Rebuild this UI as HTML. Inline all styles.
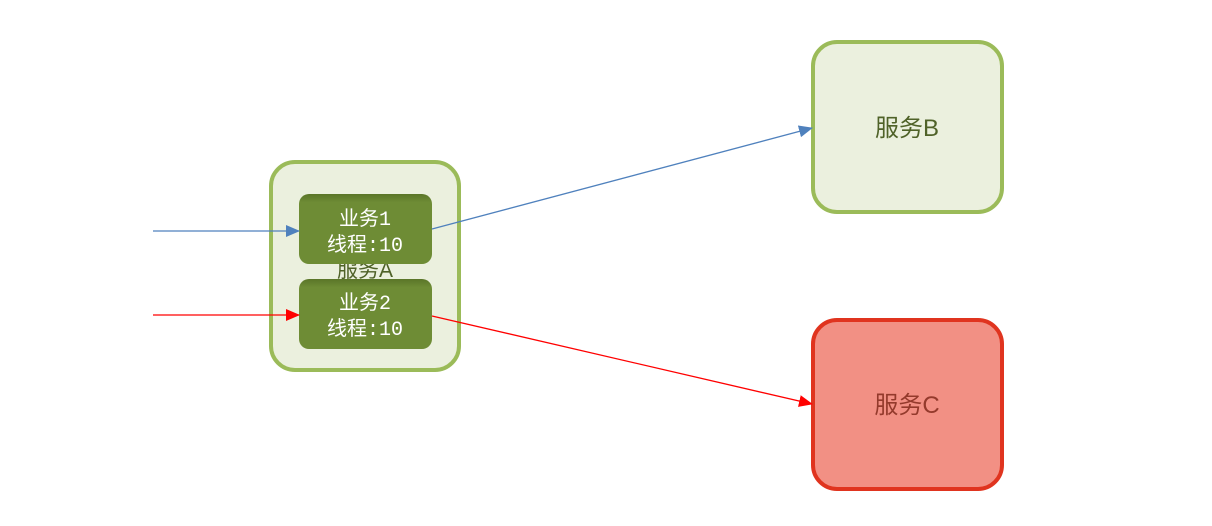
<!DOCTYPE html>
<html><head><meta charset="utf-8"><style>
html,body{margin:0;padding:0;background:#fff;width:1212px;height:526px;overflow:hidden}
svg{display:block}
.cj{font-family:"Liberation Sans","Noto Sans CJK SC",sans-serif}
.mono{font-family:"Liberation Mono","Noto Sans CJK SC",monospace}
</style></head><body>
<svg width="1212" height="526" viewBox="0 0 1212 526">
<defs>
<marker id="ab" markerWidth="14" markerHeight="12" refX="13" refY="6" orient="auto" markerUnits="userSpaceOnUse"><path d="M0,0 L14,6 L0,12 z" fill="#4f81bd"/></marker>
<marker id="ar" markerWidth="14" markerHeight="12" refX="13" refY="6" orient="auto" markerUnits="userSpaceOnUse"><path d="M0,0 L14,6 L0,12 z" fill="#ff0000"/></marker>
<linearGradient id="gg" x1="0" y1="0" x2="0" y2="1"><stop offset="0" stop-color="#5a7528"/><stop offset="0.12" stop-color="#6e8c35"/><stop offset="1" stop-color="#6e8c35"/></linearGradient>
</defs>
<g>
<rect x="271" y="162" width="188" height="208" rx="24" fill="#ebf0de" stroke="#9bbb59" stroke-width="4"/>
<text x="365" y="277" text-anchor="middle" class="cj" font-size="21" fill="#4f6228">服务A</text>
</g>
<g>
<rect x="299" y="194" width="133" height="70" rx="10" fill="url(#gg)"/>
<text x="365" y="225" text-anchor="middle" class="mono" font-size="20" fill="#fff">业务1</text>
<text x="365" y="251" text-anchor="middle" class="mono" font-size="20" fill="#fff">线程:10</text>
</g>
<g>
<rect x="299" y="279" width="133" height="70" rx="10" fill="url(#gg)"/>
<text x="365" y="309" text-anchor="middle" class="mono" font-size="20" fill="#fff">业务2</text>
<text x="365" y="335" text-anchor="middle" class="mono" font-size="20" fill="#fff">线程:10</text>
</g>
<g>
<rect x="813" y="42" width="189" height="170" rx="24" fill="#ebf0de" stroke="#9bbb59" stroke-width="4"/>
<text x="907" y="136" text-anchor="middle" class="cj" font-size="24" fill="#4f6228">服务B</text>
</g>
<g>
<rect x="813" y="320" width="189" height="169" rx="24" fill="#f29084" stroke="#e0341f" stroke-width="4"/>
<text x="907" y="413" text-anchor="middle" class="cj" font-size="24" fill="#943a2c">服务C</text>
</g>
<line x1="153" y1="231" x2="299" y2="231" stroke="#4f81bd" stroke-width="1.3" marker-end="url(#ab)"/>
<line x1="153" y1="315" x2="299" y2="315" stroke="#ff0000" stroke-width="1.3" marker-end="url(#ar)"/>
<line x1="432" y1="229" x2="812" y2="128" stroke="#4f81bd" stroke-width="1.3" marker-end="url(#ab)"/>
<line x1="432" y1="316" x2="812" y2="404" stroke="#ff0000" stroke-width="1.3" marker-end="url(#ar)"/>
</svg>
</body></html>
